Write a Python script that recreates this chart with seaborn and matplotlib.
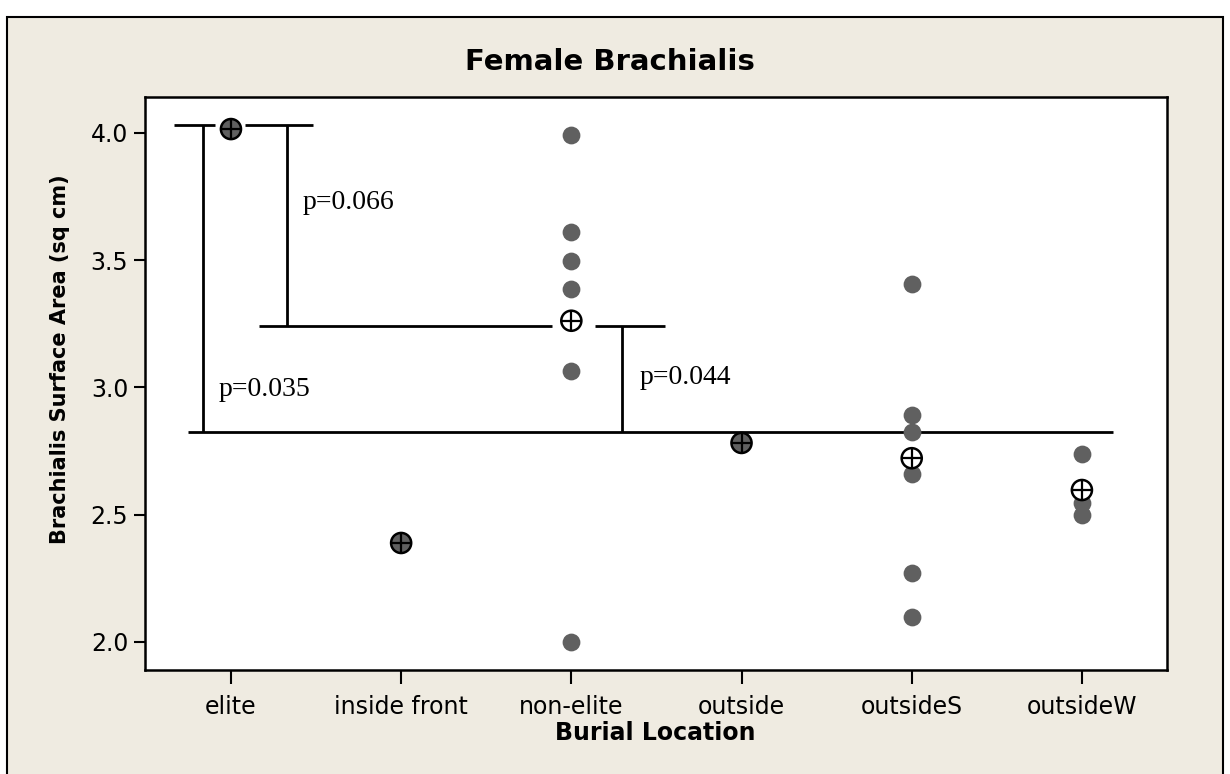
import pandas as pd
import matplotlib.pyplot as plt
import seaborn as sns
from matplotlib.patches import Rectangle

sns.set_theme(style="white")
plt.rcParams["font.family"] = ["DejaVu Sans"]
plt.rcParams["text.color"] = "black"

# burial groups and observed brachialis areas (sq cm)
locations = ["elite", "inside front", "non-elite", "outside", "outsideS", "outsideW"]
elite = [4.015]
inside_front = [2.389]
non_elite = [3.992, 3.612, 3.498, 3.387, 3.066, 2.0]
outside = [2.782]
outside_s = [3.407, 2.892, 2.826, 2.660, 2.272, 2.097]
outside_w = [2.739, 2.547, 2.499]

# group means as marked on the chart
means = [4.015, 2.389, 3.262, 2.782, 2.722, 2.597]
counts = [1, 1, 6, 1, 6, 3]

# comparison brackets: level, x start, x end (category units), with gaps
bracket_h = [
    (4.03, -0.335, -0.094), (4.03, 0.082, 0.482),
    (3.242, 0.165, 1.886), (3.242, 2.139, 2.55),
    (2.825, -0.253, 5.18),
]
bracket_v = [(-0.165, 2.825, 4.03), (0.329, 3.242, 4.03), (2.297, 2.825, 3.242)]
p_labels = [("p=0.066", 0.423, 3.725), ("p=0.035", -0.07, 2.99), ("p=0.044", 2.403, 3.041)]

groups = [elite, inside_front, non_elite, outside, outside_s, outside_w]
df = pd.DataFrame(
    [(loc, v) for loc, vals in zip(locations, groups) for v in vals],
    columns=["location", "area"],
)
mean_df = pd.DataFrame({"location": locations, "area": means, "n": counts})

fig = plt.figure(figsize=(12.3, 7.74), dpi=100, facecolor="white")
frame = Rectangle((7 / 1230, -0.05), 1216 / 1230, 1.05 - 17 / 774,
                  transform=fig.transFigure, facecolor="#efebe1",
                  edgecolor="black", linewidth=1.5, zorder=-5)
fig.add_artist(frame)

ax = fig.add_axes([145 / 1230, 104 / 774, 1022 / 1230, 573 / 774])
ax.set_zorder(2)
ax.set_facecolor("white")

for y, x0, x1 in bracket_h:
    ax.hlines(y, x0, x1, color="black", linewidth=2, zorder=1)
for x, y0, y1 in bracket_v:
    ax.vlines(x, y0, y1, color="black", linewidth=2, zorder=1)
for txt, x, y in p_labels:
    ax.text(x, y, txt, fontsize=20, family="Liberation Serif", va="center", ha="left")

sns.stripplot(data=df, x="location", y="area", order=locations, jitter=False,
              color="#606060", size=12.8, linewidth=0, ax=ax, zorder=3)

fills = ["#606060" if n == 1 else "white" for n in counts]
ax.scatter(mean_df["location"], mean_df["area"], s=210, c=fills,
           edgecolors="black", linewidths=1.8, zorder=4)
ax.scatter(mean_df["location"], mean_df["area"], s=210, marker="+",
           c="black", linewidths=1.6, zorder=5)

ax.set_xlim(-0.505, 5.5)
ax.set_ylim(1.89, 4.141)
ax.set_yticks([2.0, 2.5, 3.0, 3.5, 4.0])
ax.set_yticklabels(["2.0", "2.5", "3.0", "3.5", "4.0"])
ax.tick_params(axis="both", which="major", labelsize=17, length=8, width=1.5,
               color="black", labelcolor="black", bottom=True, left=True, pad=4)
ax.tick_params(axis="x", length=10, pad=8)
for s in ax.spines.values():
    s.set_color("black")
    s.set_linewidth(1.8)
ax.set_xlabel("")
ax.set_ylabel("")

fig.text(610 / 1230, 1 - 62 / 774, "Female Brachialis", ha="center", va="center",
         fontsize=21, fontweight="bold")
fig.text(655 / 1230, 1 - 733 / 774, "Burial Location", ha="center", va="center",
         fontsize=17, fontweight="bold")
fig.text(60 / 1230, 1 - 359 / 774, "Brachialis Surface Area (sq cm)", ha="center",
         va="center", rotation=90, fontsize=15, fontweight="bold")

fig.savefig("out.png", dpi=100, facecolor=fig.get_facecolor())
